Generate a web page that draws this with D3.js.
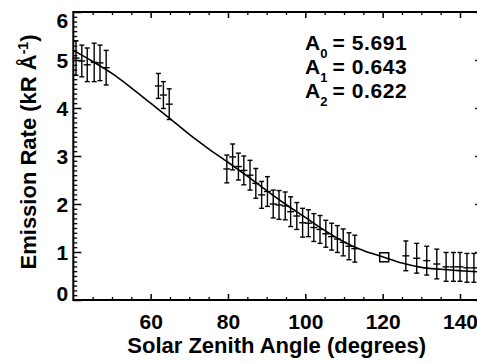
<!DOCTYPE html>
<html>
<head>
<meta charset="utf-8">
<script src="https://cdn.jsdelivr.net/npm/d3@7"></script>
<style>
  body { margin: 0; background: #fff; overflow: hidden; }
  text { font-family: "Liberation Sans", Arial, Helvetica, sans-serif; font-weight: bold; fill: #000; }
</style>
</head>
<body>
<div id="EmissionPlot"></div>
<script>
// Measured points: solar zenith angle (deg), emission rate (kR/A), 1-sigma error
const SZA = [40.7, 42.2, 43.6, 45.4, 46.9, 48.5,
             62.0, 63.3, 64.8,
             79.7, 81.2, 82.7, 84.1, 85.7, 87.2, 88.7, 90.2, 91.7, 93.2, 94.8, 96.2,
             97.8, 99.3, 100.8, 102.2, 103.8, 105.3, 106.8, 108.3, 109.8, 111.3, 112.8,
             126.0, 128.8, 131.4, 134.0, 136.4, 138.3, 140.0, 141.8, 143.6];
const RATE = [5.04, 4.98, 4.90, 4.95, 4.94, 4.84,
              4.46, 4.27, 4.08,
              2.73, 2.98, 2.78, 2.70, 2.60, 2.43, 2.19, 2.26, 2.00, 1.98, 1.96, 1.84,
              1.75, 1.61, 1.60, 1.51, 1.47, 1.38, 1.32, 1.27, 1.20, 1.12, 1.07,
              0.92, 0.87, 0.82, 0.75, 0.69, 0.69, 0.69, 0.67, 0.67];
const ERR = [0.36, 0.33, 0.35, 0.40, 0.37, 0.36,
             0.26, 0.28, 0.32,
             0.29, 0.27, 0.28, 0.30, 0.31, 0.31, 0.28, 0.31, 0.29, 0.30, 0.29, 0.31,
             0.28, 0.30, 0.28, 0.29, 0.29, 0.28, 0.28, 0.28, 0.28, 0.28, 0.28,
             0.31, 0.31, 0.30, 0.31, 0.30, 0.30, 0.30, 0.30, 0.30];

// Reference point drawn as an open square
const REF_SZA = [120.4];
const REF_RATE = [0.89];

// Fitted curve
const FIT_SZA = [40, 45, 50, 55, 60, 65, 70, 75, 80, 85, 90, 95, 100, 105, 110, 115, 120, 125, 130, 135, 140, 146];
const FIT_RATE = [5.20, 4.97, 4.72, 4.42, 4.10, 3.78, 3.45, 3.15, 2.87, 2.58, 2.28, 1.99, 1.72, 1.45, 1.21, 1.03, 0.90, 0.77, 0.68, 0.64, 0.61, 0.58];

// Axis ticks
const X_TICKS = [60, 80, 100, 120, 140];
const Y_TICKS = [0, 1, 2, 3, 4, 5, 6];

// Fit coefficients shown in the corner
const COEF_NAMES = ["0", "1", "2"];
const COEF_VALUES = ["5.691", "0.643", "0.622"];

// Frame and plot box
const FRAME_WIDTH = 477;
const FRAME_HEIGHT = 363;
const PLOT = {left: 73.3, right: 483.2, top: 12, bottom: 300};

const FRAME = d3.select("#EmissionPlot")
                .append("svg")
                  .attr("width", FRAME_WIDTH)
                  .attr("height", FRAME_HEIGHT);

const X_SCALE = d3.scaleLinear()
                  .domain([40, 146])
                  .range([PLOT.left, PLOT.right]);

const Y_SCALE = d3.scaleLinear()
                  .domain([0, 6])
                  .range([PLOT.bottom, PLOT.top]);

const X_MINOR = d3.range(45, 146, 5).filter(v => !X_TICKS.includes(v));
const Y_MINOR = d3.range(0, 60).map(v => v / 10).filter(v => !Number.isInteger(v));

// helper: draw an axis then style its ticks
function add_axis(axis, tx, ty, width) {
    const g = FRAME.append("g")
        .attr("transform", "translate(" + tx + "," + ty + ")")
        .call(axis);
    g.select(".domain").remove();
    g.selectAll("line").attr("stroke", "#000").attr("stroke-width", width);
    g.selectAll("text").style("font-size", "21px").attr("font-family", null);
    return g;
}

// Bottom axis with labels
add_axis(d3.axisBottom(X_SCALE).tickValues(X_TICKS).tickSize(-6).tickPadding(14).tickFormat(d3.format("d")),
         0, PLOT.bottom, 1.5);
add_axis(d3.axisBottom(X_SCALE).tickValues(X_MINOR).tickSize(-3).tickFormat(""), 0, PLOT.bottom, 1.3);

// Top axis, ticks only
add_axis(d3.axisTop(X_SCALE).tickValues(X_TICKS).tickSize(-6).tickFormat(""), 0, PLOT.top, 1.5);
add_axis(d3.axisTop(X_SCALE).tickValues(X_MINOR).tickSize(-3).tickFormat(""), 0, PLOT.top, 1.3);

// Left axis with labels; the end labels are pulled inside the box
const Y_AXIS = add_axis(d3.axisLeft(Y_SCALE).tickValues(Y_TICKS).tickSize(-8).tickPadding(5).tickFormat(d3.format("d")),
         PLOT.left, 0, 1.5);
Y_AXIS.selectAll(".tick text")
      .attr("dy", d => d === 0 ? "0.0em" : (d === 6 ? "0.72em" : "0.36em"));
add_axis(d3.axisLeft(Y_SCALE).tickValues(Y_MINOR).tickSize(-4).tickFormat(""), PLOT.left, 0, 1.3);

// Right axis, ticks only
add_axis(d3.axisRight(Y_SCALE).tickValues(Y_TICKS).tickSize(-8).tickFormat(""), PLOT.right, 0, 1.5);
add_axis(d3.axisRight(Y_SCALE).tickValues(Y_MINOR).tickSize(-4).tickFormat(""), PLOT.right, 0, 1.3);

// Plot box
FRAME.append("rect")
     .attr("x", PLOT.left)
     .attr("y", PLOT.top)
     .attr("width", PLOT.right - PLOT.left)
     .attr("height", PLOT.bottom - PLOT.top)
     .attr("fill", "none")
     .attr("stroke", "#000")
     .attr("stroke-width", 2);

// Fitted curve
const FIT = FIT_SZA.map((d, i) => ({x: d, y: FIT_RATE[i]}));
FRAME.append("path")
     .datum(FIT)
     .attr("fill", "none")
     .attr("stroke", "#000")
     .attr("stroke-width", 1.6)
     .attr("d", d3.line()
                  .x(d => X_SCALE(d.x))
                  .y(d => Y_SCALE(d.y))
                  .curve(d3.curveMonotoneX));

// Error bars with a cross at each point
const POINTS = SZA.map((d, i) => ({x: d, y: RATE[i], e: ERR[i]}));
const BARS = FRAME.append("g")
                  .attr("stroke", "#000")
                  .attr("stroke-width", 1.4)
                  .selectAll("g")
                  .data(POINTS)
                  .enter()
                  .append("g");

BARS.append("line")
    .attr("x1", d => X_SCALE(d.x)).attr("x2", d => X_SCALE(d.x))
    .attr("y1", d => Y_SCALE(d.y - d.e)).attr("y2", d => Y_SCALE(d.y + d.e));
BARS.append("line")
    .attr("x1", d => X_SCALE(d.x) - 2.5).attr("x2", d => X_SCALE(d.x) + 2.5)
    .attr("y1", d => Y_SCALE(d.y - d.e)).attr("y2", d => Y_SCALE(d.y - d.e));
BARS.append("line")
    .attr("x1", d => X_SCALE(d.x) - 2.5).attr("x2", d => X_SCALE(d.x) + 2.5)
    .attr("y1", d => Y_SCALE(d.y + d.e)).attr("y2", d => Y_SCALE(d.y + d.e));
BARS.append("line")
    .attr("x1", d => X_SCALE(d.x) - 3.5).attr("x2", d => X_SCALE(d.x) + 3.5)
    .attr("y1", d => Y_SCALE(d.y)).attr("y2", d => Y_SCALE(d.y));

// Open square marker
FRAME.selectAll("rect.ref")
     .data(REF_SZA.map((d, i) => ({x: d, y: REF_RATE[i]})))
     .enter()
     .append("rect")
       .attr("class", "ref")
       .attr("x", d => X_SCALE(d.x) - 4.5)
       .attr("y", d => Y_SCALE(d.y) - 4.5)
       .attr("width", 9)
       .attr("height", 9)
       .attr("fill", "none")
       .attr("stroke", "#000")
       .attr("stroke-width", 1.5);

// Coefficient labels
COEF_NAMES.forEach((n, i) => {
    const t = FRAME.append("text")
        .attr("x", 305)
        .attr("y", 50 + i * 24)
        .style("font-size", "21px");
    t.append("tspan").text("A");
    t.append("tspan").attr("dy", 8).style("font-size", "13px").text(n);
    t.append("tspan").attr("dy", -8).attr("dx", 5).attr("letter-spacing", "0.6px").text("= " + COEF_VALUES[i]);
});

// Axis titles
FRAME.append("text")
     .attr("x", (PLOT.left + 480) / 2)
     .attr("y", 353)
     .attr("text-anchor", "middle")
     .style("font-size", "22px")
     .text("Solar Zenith Angle (degrees)");

const Y_TITLE = FRAME.append("text")
     .attr("transform", "translate(36,152) rotate(-90)")
     .attr("text-anchor", "middle")
     .style("font-size", "22px");
Y_TITLE.append("tspan").text("Emission Rate (kR \u00C5");
Y_TITLE.append("tspan").attr("dy", -8).style("font-size", "14px").text("-1");
Y_TITLE.append("tspan").attr("dy", 8).text(")");
</script>
</body>
</html>
